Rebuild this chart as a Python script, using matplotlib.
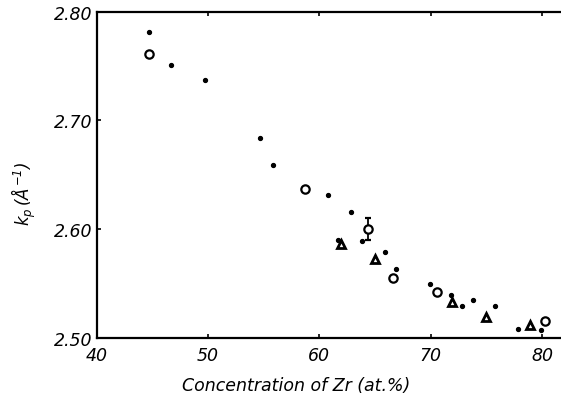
#!/usr/bin/env python3
"""Peak position k_p of the structure factor vs. Zr concentration."""
import matplotlib
matplotlib.use("Agg")
import matplotlib.pyplot as plt

# small dots
dot_x = [44.7, 46.7, 49.7, 54.7, 55.8, 60.8, 62.8, 61.7, 63.8, 65.9, 66.9,
         69.9, 71.8, 72.8, 73.8, 75.8, 77.8, 79.9]
dot_y = [2.781, 2.751, 2.737, 2.684, 2.659, 2.631, 2.616, 2.590, 2.589, 2.579, 2.563,
         2.549, 2.539, 2.529, 2.535, 2.529, 2.508, 2.507]

# open circles
circ_x = [44.7, 58.7, 64.4, 66.6, 70.6, 80.3]
circ_y = [2.761, 2.637, 2.600, 2.555, 2.542, 2.515]
circ_err = [0, 0, 0.0105, 0, 0, 0]

# open triangles
tri_x = [61.9, 65.0, 71.9, 75.0, 78.9]
tri_y = [2.586, 2.572, 2.533, 2.519, 2.512]

x_ticks = [40, 50, 60, 70, 80]
y_ticks = [2.50, 2.60, 2.70, 2.80]

plt.rcParams["font.family"] = "DejaVu Sans"
plt.rcParams["font.style"] = "oblique"
plt.rcParams["mathtext.fontset"] = "dejavusans"
plt.rcParams["mathtext.default"] = "it"

fig = plt.figure(figsize=(5.61, 4.02), dpi=100)
ax = fig.add_axes([96.7 / 561, 1 - 338.7 / 402, 1 - 96.7 / 561, 326 / 402])

ax.plot(dot_x, dot_y, "o", ms=2.8, color="black", mec="black", ls="none")
ax.errorbar(circ_x, circ_y, yerr=circ_err, fmt="o", ms=6, mfc="white", mec="black",
            mew=1.6, ecolor="black", elinewidth=1.3, capsize=2.5, capthick=1.3)
ax.plot(tri_x, tri_y, "^", ms=6, mfc="white", mec="black", mew=2.0, ls="none")

ax.set_xlim(40, 81.7)
ax.set_ylim(2.50, 2.80)
ax.set_xticks(x_ticks)
ax.set_yticks(y_ticks)
ax.set_yticklabels([f"{v:.2f}" for v in y_ticks])
ax.tick_params(direction="in", length=3, width=1.2, labelsize=12.5, top=True)
ax.tick_params(axis="x", pad=6)
ax.tick_params(axis="y", pad=3)

for side in ("left", "bottom", "top"):
    ax.spines[side].set_linewidth(1.6)
ax.spines["right"].set_visible(False)

ax.set_xlabel("Concentration of Zr (at.%)", fontsize=12.5)
ax.xaxis.set_label_coords((296 - 96.7) / 464.3, -(377 - 338.7) / 326)
ax.set_ylabel(r"$k_p\,(\AA^{-1})$", fontsize=12)
ax.yaxis.set_label_coords((38 - 96.7) / 464.3, (338.7 - 194) / 326)

fig.savefig("out.png", dpi=100)
